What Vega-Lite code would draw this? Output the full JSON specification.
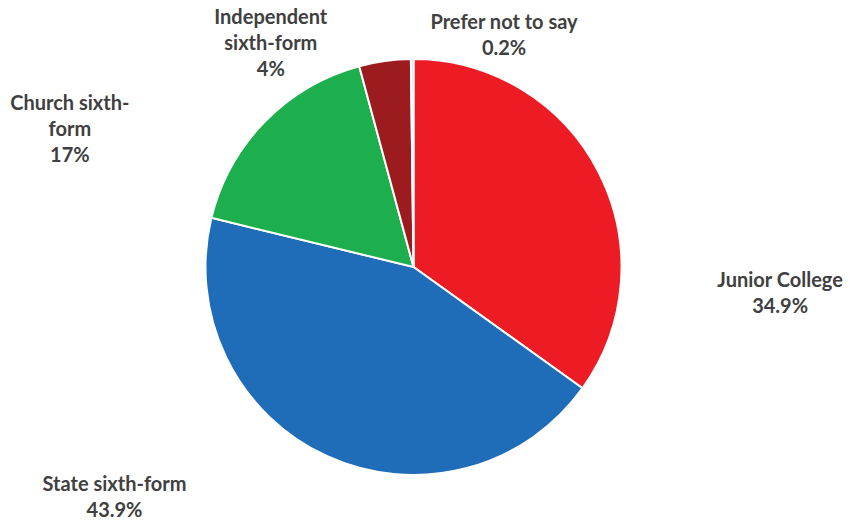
{
  "$schema": "https://vega.github.io/schema/vega-lite/v6.json",
  "width": 827,
  "height": 514,
  "autosize": {"type": "none"},
  "padding": {"left": 0, "right": 22, "top": 10, "bottom": 0},
  "background": "white",
  "config": {"view": {"stroke": null}},
  "data": {
    "values": [
      {"category": "Junior College", "share": 34.9, "rank": 1, "label": "Junior College\n34.9%"},
      {"category": "State sixth-form", "share": 43.9, "rank": 2, "label": "State sixth-form\n43.9%"},
      {"category": "Church sixth-form", "share": 17, "rank": 3, "label": "Church sixth-\nform\n17%"},
      {"category": "Independent sixth-form", "share": 4, "rank": 4, "label": "Independent\nsixth-form\n4%"},
      {"category": "Prefer not to say", "share": 0.2, "rank": 5, "label": "Prefer not to say\n0.2%"}
    ]
  },
  "encoding": {
    "theta": {"field": "share", "type": "quantitative", "stack": true},
    "order": {"field": "rank", "type": "quantitative", "sort": "ascending"},
    "detail": {"field": "category", "type": "nominal"}
  },
  "layer": [
    {
      "mark": {"type": "arc", "outerRadius": 208, "stroke": "white", "strokeWidth": 2},
      "encoding": {
        "color": {
          "field": "category",
          "type": "nominal",
          "scale": {
            "domain": ["Junior College", "State sixth-form", "Church sixth-form", "Independent sixth-form", "Prefer not to say"],
            "range": ["#ED1C24", "#1F6DB8", "#1DAF4E", "#9B1B1F", "#B4C7E7"]
          },
          "legend": null
        }
      }
    },
    {
      "mark": {"type": "text", "radius": 230, "dx": 162, "dy": 119, "align": "center", "baseline": "middle", "font": "Lato", "fontWeight": "bold", "fontSize": 20, "lineHeight": 26, "lineBreak": "\n"},
      "encoding": {"color": {"value": "#404040"}, "text": {"condition": {"test": "datum.rank == 1", "field": "label"}, "value": ""}}
    },
    {
      "mark": {"type": "text", "radius": 230, "dx": -203, "dy": 9, "align": "center", "baseline": "middle", "font": "Lato", "fontWeight": "bold", "fontSize": 20, "lineHeight": 26, "lineBreak": "\n"},
      "encoding": {"color": {"value": "#404040"}, "text": {"condition": {"test": "datum.rank == 2", "field": "label"}, "value": ""}}
    },
    {
      "mark": {"type": "text", "radius": 230, "dx": -179, "dy": -2, "align": "center", "baseline": "middle", "font": "Lato", "fontWeight": "bold", "fontSize": 20, "lineHeight": 26, "lineBreak": "\n"},
      "encoding": {"color": {"value": "#404040"}, "text": {"condition": {"test": "datum.rank == 3", "field": "label"}, "value": ""}}
    },
    {
      "mark": {"type": "text", "radius": 230, "dx": -111, "dy": -21, "align": "center", "baseline": "middle", "font": "Lato", "fontWeight": "bold", "fontSize": 20, "lineHeight": 26, "lineBreak": "\n"},
      "encoding": {"color": {"value": "#404040"}, "text": {"condition": {"test": "datum.rank == 4", "field": "label"}, "value": ""}}
    },
    {
      "mark": {"type": "text", "radius": 230, "dx": 92, "dy": -14, "align": "center", "baseline": "middle", "font": "Lato", "fontWeight": "bold", "fontSize": 20, "lineHeight": 26, "lineBreak": "\n"},
      "encoding": {"color": {"value": "#404040"}, "text": {"condition": {"test": "datum.rank == 5", "field": "label"}, "value": ""}}
    }
  ]
}
